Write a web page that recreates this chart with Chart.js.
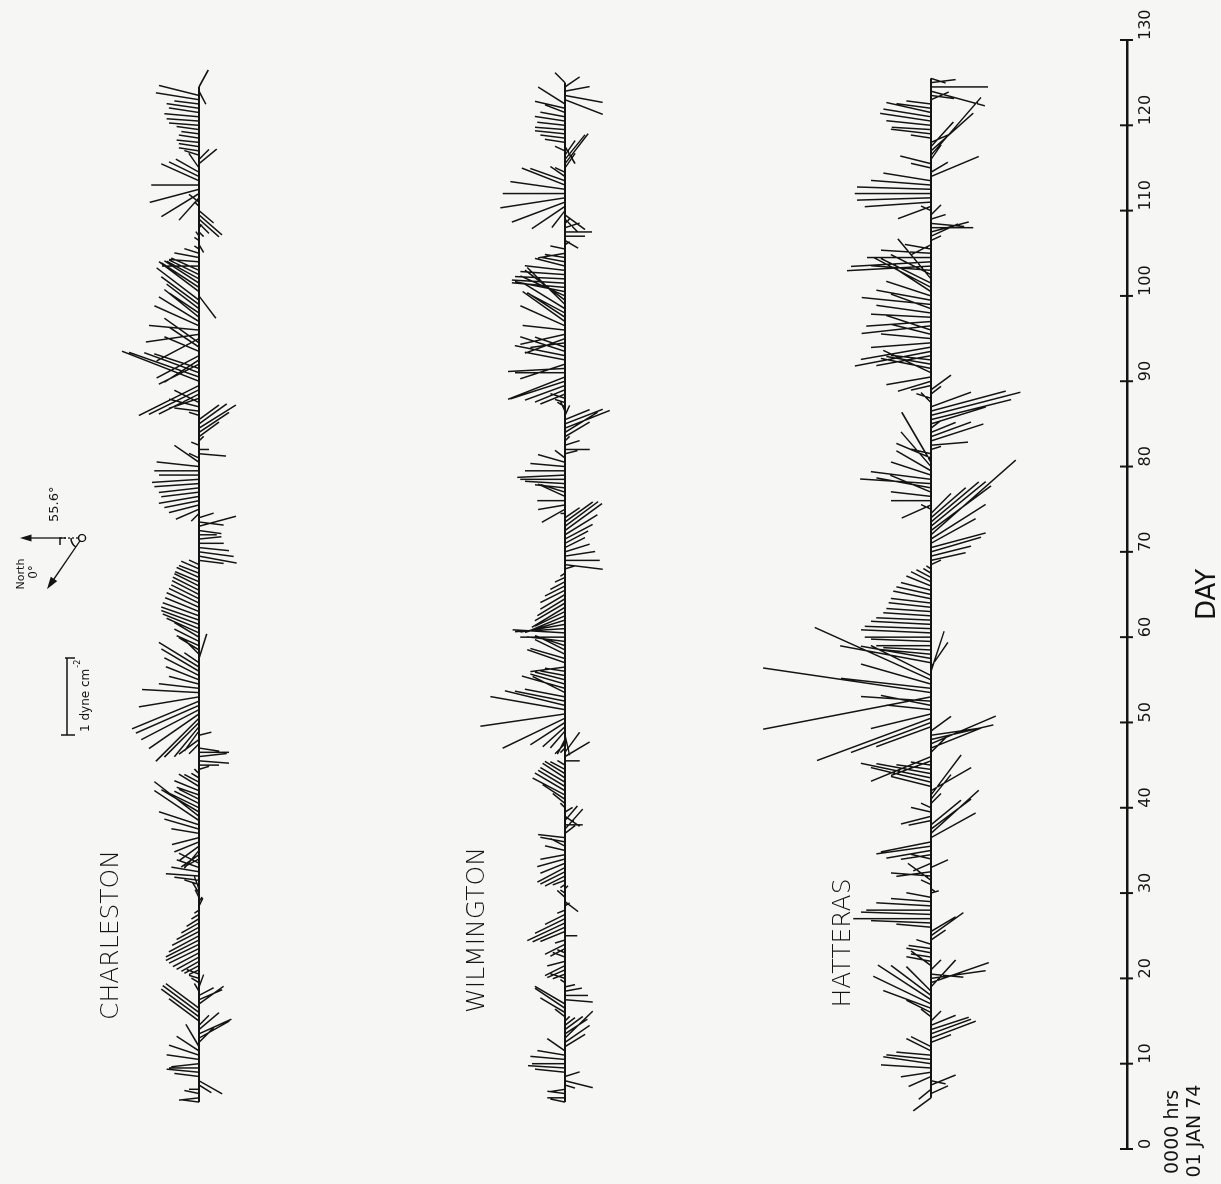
<!DOCTYPE html>
<html>
<head>
<meta charset="utf-8">
<script src="https://cdn.jsdelivr.net/npm/chart.js@4.4.1/dist/chart.umd.min.js"></script>
<style>
  html, body { margin: 0; padding: 0; background: #f6f6f4; overflow: hidden; }
  /* the figure is drawn landscape and turned a quarter turn, like the printed page */
  #wrap { position: absolute; left: 0; top: 0; width: 1184px; height: 1221px;
          transform-origin: 0 0; transform: rotate(-90deg) translateX(-100%); }
</style>
</head>
<body>
<div id="wrap"><canvas id="chart" width="1184" height="1221"></canvas></div>
<script>
// sample times (day from 0000 hrs 01 JAN 74), every 12 h
const sampleDays = [
  5.5,6,6.5,7,7.5,8,8.5,9,9.5,10,
  10.5,11,11.5,12,12.5,13,13.5,14,14.5,15,
  15.5,16,16.5,17,17.5,18,18.5,19,19.5,20,
  20.5,21,21.5,22,22.5,23,23.5,24,24.5,25,
  25.5,26,26.5,27,27.5,28,28.5,29,29.5,30,
  30.5,31,31.5,32,32.5,33,33.5,34,34.5,35,
  35.5,36,36.5,37,37.5,38,38.5,39,39.5,40,
  40.5,41,41.5,42,42.5,43,43.5,44,44.5,45,
  45.5,46,46.5,47,47.5,48,48.5,49,49.5,50,
  50.5,51,51.5,52,52.5,53,53.5,54,54.5,55,
  55.5,56,56.5,57,57.5,58,58.5,59,59.5,60,
  60.5,61,61.5,62,62.5,63,63.5,64,64.5,65,
  65.5,66,66.5,67,67.5,68,68.5,69,69.5,70,
  70.5,71,71.5,72,72.5,73,73.5,74,74.5,75,
  75.5,76,76.5,77,77.5,78,78.5,79,79.5,80,
  80.5,81,81.5,82,82.5,83,83.5,84,84.5,85,
  85.5,86,86.5,87,87.5,88,88.5,89,89.5,90,
  90.5,91,91.5,92,92.5,93,93.5,94,94.5,95,
  95.5,96,96.5,97,97.5,98,98.5,99,99.5,100,
  100.5,101,101.5,102,102.5,103,103.5,104,104.5,105,
  105.5,106,106.5,107,107.5,108,108.5,109,109.5,110,
  110.5,111,111.5,112,112.5,113,113.5,114,114.5,115,
  115.5,116,116.5,117,117.5,118,118.5,119,119.5,120,
  120.5,121,121.5,122,122.5,123,123.5,124,124.5,125,
  125.5
];

// wind stress, dyne cm^-2 : north and east components
const charlestonNorth = [
  .23,.26,.19,.13,-.16,-.30,.32,.42,.39,.36,
  .42,.39,.29,.17,-.19,-.39,-.42,-.26,-.13,.39,
  .49,.47,.43,-.32,-.30,-.19,.06,-.06,.10,.13,
  .16,.13,.19,.23,.29,.34,.39,.43,.43,.39,
  .35,.29,.23,.16,.10,.06,-.05,-.04,.05,.08,
  .06,.19,.32,.43,.36,.29,.26,.19,.23,.19,
  .26,.32,.35,.36,.45,.52,.58,.58,.49,.39,
  .32,.26,.29,.32,.26,.19,.10,.06,-.13,-.26,
  -.39,-.36,-.39,-.26,.13,.26,-.16,.19,.32,.45,
  .56,.65,.75,.82,.87,.78,.74,.52,.39,.43,
  .45,.49,.52,.19,-.10,.19,.26,.29,.32,.32,
  .42,.47,.49,.49,.47,.44,.42,.39,.36,.35,
  .34,.32,.31,.29,.26,.23,.13,-.32,-.49,-.45,
  -.39,-.32,-.29,-.23,-.29,-.48,-.32,-.19,.10,.30,
  .39,.45,.52,.49,.52,.58,.61,.52,.58,.55,
  .32,.13,-.35,-.13,.10,-.06,-.26,-.39,-.48,-.36,
  -.26,.13,.32,.39,.32,.39,.52,.65,.78,1.0,
  .91,.71,.58,.52,.45,.55,.45,.39,.45,.55,
  .69,.65,.58,.52,.45,.39,.42,.49,.55,-.22,
  .52,.49,.45,.42,.39,.36,.48,.39,.32,.19,
  .06,-.06,.06,.04,-.06,-.04,-.13,-.26,-.30,-.19,
  .06,.13,.26,.49,.64,.62,.49,.39,.30,.13,
  -.23,-.13,.19,.26,.26,.29,.26,.23,.29,.39,
  .42,.45,.39,.42,.32,.56,.52,-.09,-.12,null,
  null
];
const charlestonEast = [
  .03,-.03,.04,0,-.10,-.17,.04,.04,0,-.04,
  .06,.13,.19,.29,.19,.22,.19,.22,.13,.29,
  .36,.35,.32,.23,.13,.10,.10,.16,.06,.04,
  .06,-.06,-.10,-.13,-.16,-.18,-.19,-.21,-.22,-.21,
  -.18,-.16,-.13,-.10,-.06,-.04,.10,.06,.10,.13,
  .16,.06,.04,.03,.06,.10,.13,-.10,-.16,-.23,
  -.19,-.13,-.09,.06,.13,.17,.39,.45,.29,.19,
  .16,.13,.10,.13,.16,.10,.06,.06,.04,0,
  -.03,.04,0,-.04,-.13,-.19,.04,-.26,-.39,-.45,
  -.56,-.45,-.39,-.36,-.36,-.13,.04,.06,.10,.17,
  .23,.29,.32,.13,.32,.19,.16,.13,.16,.19,
  .19,.19,.18,.17,.17,.18,.19,.19,.18,.18,
  .17,.16,.13,.13,.10,.10,.06,-.04,-.09,-.06,
  -.04,0,.03,0,-.04,.13,-.04,.06,-.10,-.13,
  -.10,-.09,-.09,-.06,-.06,-.04,-.04,0,0,.06,
  .22,.06,-.03,0,.04,.06,.19,.26,.30,.26,
  .19,.04,.04,.10,.16,-.13,-.26,-.32,-.39,.39,
  .32,.26,.19,-.26,-.29,-.29,.19,.26,.32,-.29,
  -.10,.06,.26,.32,.36,.26,.32,.36,.42,-.29,
  .39,.32,.29,.23,.19,.16,0,.03,.06,.06,
  .04,-.10,.04,.06,-.06,.04,-.13,-.23,-.26,-.16,
  .06,.10,-.29,-.30,-.17,0,.22,.19,.17,.19,
  .19,.13,.06,.04,.04,.03,.04,.03,.04,.03,
  .03,.04,.06,.06,.04,.09,.13,-.17,.22,null,
  null
];

const wilmingtonNorth = [
  .19,.23,.23,.19,-.13,-.36,-.19,.39,.48,.43,
  .45,.36,.23,-.26,-.32,-.36,-.29,-.23,-.13,-.06,
  .13,.32,.39,.39,-.36,-.30,-.22,-.13,.06,.19,
  .16,.23,.26,.23,.16,.10,.19,.26,.13,-.16,
  .32,.42,.49,.39,.26,.10,-.06,-.17,.10,.06,
  -.04,.06,.16,.26,.32,.36,.32,.36,.32,.26,
  .19,.32,.35,-.13,-.23,-.23,-.16,-.19,-.10,.06,
  .16,.29,.42,.39,.35,.32,.29,.26,.19,.10,
  -.19,-.32,-.19,.06,.13,.10,-.06,.19,.29,.45,
  .81,1.10,.97,.78,.65,.52,.42,.56,.45,.39,
  .32,.26,.45,.49,.45,.39,.32,.39,.49,.58,
  .68,.65,.58,.52,.45,.39,.43,.39,.36,.32,
  .32,.26,.19,.13,.06,-.13,-.49,-.45,-.39,-.32,
  -.26,-.30,-.36,-.42,-.48,-.43,-.36,-.19,.06,.30,
  .35,.36,.35,.32,.39,.52,.58,.62,.52,.45,
  .35,.13,-.16,-.32,-.19,-.06,-.32,-.42,-.58,-.49,
  -.32,-.06,.06,.10,.13,.19,.32,.39,.52,.71,
  .74,.65,.74,.58,.52,.65,.58,.39,.45,.52,
  .58,.55,.58,.55,.49,.49,.52,.49,.52,.58,
  .65,.69,.69,.65,.58,.52,.39,.32,.26,.35,
  .19,-.06,-.17,-.26,-.35,-.19,-.06,-.17,-.26,.17,
  .43,.69,.84,.81,.71,.56,.45,.19,.13,-.13,
  -.30,-.26,-.13,.13,-.13,.26,.32,.39,.39,.36,
  .39,.32,.26,.39,.35,-.49,-.49,-.32,-.19,.13,
  null
];
const wilmingtonEast = [
  .04,0,.03,-.03,-.04,-.09,.06,.04,.03,0,
  .04,.06,.16,.16,.22,.35,.19,.17,.10,.06,
  .10,.19,.26,.23,-.03,0,.04,.03,.04,.06,
  -.06,-.10,-.13,-.06,.06,.04,-.10,-.13,-.04,0,
  -.13,-.19,-.23,-.19,-.13,-.04,.04,-.13,.09,.04,
  .04,-.04,-.06,-.13,-.16,-.19,-.13,-.10,-.06,.06,
  .10,.06,.04,.10,.26,0,.19,-.13,.06,.06,
  .13,.19,.22,.23,.21,.19,.19,.16,.10,.06,
  0,.19,.26,-.06,-.13,-.19,-.26,-.22,-.26,-.29,
  -.39,-.16,.17,.19,.13,.10,.21,.16,.13,.10,
  .06,.04,-.06,.17,.13,.19,.16,.13,.06,0,
  .04,-.04,-.10,-.16,-.19,-.19,-.26,-.23,-.22,-.19,
  -.16,-.13,-.10,-.06,-.04,.04,-.06,0,.06,.10,
  .13,.16,.19,.26,.35,.32,.26,.13,0,-.17,
  -.06,0,.16,.10,.04,.03,0,-.03,0,.04,
  .10,.10,.04,0,.06,.06,.19,.26,.23,.19,
  .13,.13,.13,.06,.04,.06,-.13,-.16,-.19,-.23,
  -.29,0,-.04,-.19,.10,.13,.19,.13,-.06,-.19,
  -.13,.06,.26,.39,.32,.26,.32,.48,.39,.26,
  .13,.06,.04,.03,.04,.06,.10,.06,.04,-.06,
  .04,.04,-.10,0,0,.06,.06,-.17,-.19,-.22,
  -.29,-.26,-.13,0,.10,.22,.16,.13,.06,.19,
  .39,.32,.19,.06,-.22,.04,.04,.04,.03,.04,
  .06,.06,.10,.09,.22,-.19,-.09,.06,.13,.13,
  null
];

const hatterasNorth = [
  null,.23,-.22,.16,-.32,-.19,.29,.39,.65,.62,
  .58,.45,.32,.26,-.26,-.58,-.52,-.49,-.32,-.13,
  .13,.32,.62,.75,.69,.52,.32,-.32,-.75,-.71,
  -.42,-.13,.26,.32,.26,.32,.29,.19,-.19,-.42,
  -.32,.45,.78,1.01,.91,.84,.71,.52,.32,-.10,
  -.06,.13,.30,.52,.45,-.22,.23,.26,.39,.58,
  .71,.65,-.58,-.62,-.52,-.39,.29,.39,.26,.13,
  -.13,-.26,-.39,-.52,.52,.78,.91,.71,.45,.26,
  .52,.78,-.19,-.65,-.84,-.81,-.62,-.26,.71,1.04,
  1.48,.78,.58,.65,.91,2.18,2.18,1.17,.91,1.51,
  .78,-.17,-.22,1.18,.91,.65,.62,.71,.78,.86,
  .91,.86,.78,.71,.62,.58,.55,.52,.49,.45,
  .39,.32,.26,.19,.10,.06,-.13,-.45,-.52,-.65,
  -.71,-.58,-.71,-1.10,-.78,-.71,-.62,-.45,-.26,.13,
  .38,.52,.52,.53,.71,.92,.78,.52,.45,.39,
  .38,.45,.26,-.13,-.48,-.68,-.52,-.32,-.13,-.71,
  -1.04,-1.16,-.97,-.52,.13,.19,-.13,-.26,.26,.43,
  .58,.62,.65,.58,.52,.71,.99,.91,.78,.65,
  .52,.58,.90,.84,.78,.71,.52,.90,.71,.58,
  .49,.75,.65,.43,.52,.78,1.09,1.04,.83,.65,
  .34,.26,-.13,-.35,-.49,-.55,-.43,-.19,-.13,.13,
  .43,.86,.96,.99,.96,.78,.62,-.62,-.22,.26,
  .40,-.13,-.65,-.55,-.29,-.23,.26,.52,.51,.58,
  .66,.62,.58,.45,.32,-.23,-.30,-.70,-.74,-.32,
  -.19
];
const hatterasEast = [
  null,-.17,.10,-.13,.13,-.04,-.13,-.06,.04,.09,
  .06,.04,.16,.13,.10,.22,.19,.16,.13,.13,
  .10,.16,.23,.36,.45,.39,.32,.35,.26,.10,
  -.04,.13,.19,.06,.04,.06,.04,.06,.13,.30,
  .19,.04,.03,0,.03,0,.04,.04,.06,.03,
  -.04,.06,.22,.04,-.06,.10,-.10,.06,-.06,-.10,
  -.10,-.13,.32,.56,.39,.32,-.06,-.10,.06,.06,
  .13,.32,.52,.30,.13,.19,.19,.13,.06,.04,
  -.19,-.32,.19,.26,.36,.19,.09,.19,-.26,-.39,
  -.55,-.19,.06,.13,.06,-.42,.32,.13,.26,.68,
  .39,.52,.32,.22,.16,.06,.03,0,.03,0,
  .04,.03,.04,.03,.04,.04,.06,.06,.10,.10,
  .10,.13,.13,.10,.06,.04,.06,.10,.13,.19,
  .19,.32,.45,.97,.58,.58,.52,.39,.26,.06,
  -.17,0,.06,.22,.13,.06,.10,.17,.26,.45,
  .65,.19,.06,.04,.04,.22,.19,.13,.10,.22,
  .26,.30,.26,.19,.13,.06,.10,.19,-.06,-.13,
  -.10,.29,.13,.10,.06,-.13,-.19,-.16,-.06,.06,
  .13,.19,-.10,-.06,.04,.10,.19,.09,.13,.19,
  .32,.39,.32,.52,.26,.06,-.06,-.06,0,.04,
  .06,-.13,.06,.16,.13,0,-.04,.06,.13,.06,
  -.16,-.06,-.03,0,.03,.06,.10,.26,.13,.06,
  .10,.19,.75,.49,.32,.10,.04,.06,.03,.06,
  .10,.10,.13,.06,.04,.10,-.04,-.19,0,.04,
  -.06
];

const stationNames = ['CHARLESTON', 'WILMINGTON', 'HATTERAS'];
const dayTicks = [0, 10, 20, 30, 40, 50, 60, 70, 80, 90, 100, 110, 120, 130];

// layout (pixels of the unrotated figure)
const INK = '#141414';
const PAD_LEFT = 35, PAD_RIGHT = 40, AXIS_BOX = 94;
const PX_PER_DYNE = 77;                       // length of the 1 dyne cm^-2 bar
const PLOT_H = 1221 - AXIS_BOX;
const Y_MAX = PLOT_H / PX_PER_DYNE;
const PX_PER_DAY = (1184 - PAD_LEFT - PAD_RIGHT) / 130;
const DAYS_PER_DYNE = PX_PER_DYNE / PX_PER_DAY;   // keeps the sticks isotropic
const baseLevel = [(PLOT_H - 199) / PX_PER_DYNE, (PLOT_H - 565) / PX_PER_DYNE, (PLOT_H - 931) / PX_PER_DYNE];
const labelPos = [[249, 118], [254, 484], [241, 850]];

function sticks(north, east, base) {
  const pts = [];
  sampleDays.forEach((d, i) => {
    if (north[i] == null || east[i] == null) return;
    pts.push({x: d, y: base});
    pts.push({x: d + east[i] * DAYS_PER_DYNE, y: base + north[i]});
    pts.push({x: d, y: null});
  });
  return pts;
}
function baseline(north, base) {
  const idx = sampleDays.map((d, i) => i).filter(i => north[i] != null);
  return [{x: sampleDays[idx[0]], y: base}, {x: sampleDays[idx[idx.length - 1]], y: base}];
}

const series = [
  [charlestonNorth, charlestonEast],
  [wilmingtonNorth, wilmingtonEast],
  [hatterasNorth, hatterasEast]
];

const datasets = [];
series.forEach(([n, e], k) => {
  datasets.push({
    label: stationNames[k],
    data: sticks(n, e, baseLevel[k]),
    borderColor: INK, borderWidth: 1.5, pointRadius: 0, spanGaps: false, tension: 0
  });
  datasets.push({
    label: stationNames[k] + ' axis',
    data: baseline(n, baseLevel[k]),
    borderColor: INK, borderWidth: 2.2, pointRadius: 0
  });
});

function arrowHead(ctx, x0, y0, x1, y1, size) {
  const a = Math.atan2(y1 - y0, x1 - x0);
  ctx.beginPath();
  ctx.moveTo(x1, y1);
  ctx.lineTo(x1 - size * Math.cos(a - 0.3), y1 - size * Math.sin(a - 0.3));
  ctx.lineTo(x1 - size * Math.cos(a + 0.3), y1 - size * Math.sin(a + 0.3));
  ctx.closePath();
  ctx.fill();
}

const extras = {
  id: 'extras',
  afterDraw(chart) {
    const {ctx, chartArea} = chart;
    const x = chart.scales.x;
    const axisY = chartArea.bottom;
    ctx.save();
    ctx.strokeStyle = INK;
    ctx.fillStyle = INK;

    // tick marks crossing the day axis
    ctx.lineWidth = 2;
    dayTicks.forEach(v => {
      const px = x.getPixelForValue(v);
      ctx.beginPath(); ctx.moveTo(px, axisY - 7); ctx.lineTo(px, axisY + 6); ctx.stroke();
    });

    // start time
    ctx.font = "19px 'DejaVu Sans'";
    ctx.textAlign = 'center';
    ctx.textBaseline = 'alphabetic';
    ctx.fillText('0000 hrs', x.getPixelForValue(2), 1178);
    ctx.fillText('01 JAN 74', x.getPixelForValue(2.1), 1200);

    // station names
    ctx.font = "300 25px 'DejaVu Sans'";
    stationNames.forEach((s, k) => ctx.fillText(s, labelPos[k][0], labelPos[k][1]));

    // scale bar: 1 dyne cm^-2
    const bx0 = 449, bx1 = bx0 + PX_PER_DYNE, by = 67;
    ctx.lineWidth = 1.5;
    ctx.beginPath();
    ctx.moveTo(bx0, by); ctx.lineTo(bx1, by);
    ctx.moveTo(bx0, by - 6); ctx.lineTo(bx0, by + 8);
    ctx.moveTo(bx1, by - 2); ctx.lineTo(bx1, by + 8);
    ctx.stroke();
    ctx.textAlign = 'left';
    ctx.font = "12px 'DejaVu Sans'";
    ctx.fillText('1 dyne cm', bx0 + 3, 89);
    const w = ctx.measureText('1 dyne cm').width;
    ctx.font = "8px 'DejaVu Sans'";
    ctx.fillText('-2', bx0 + 4 + w, 80);

    // north / coordinate rotation sketch
    const cx = 646, cy = 82;
    ctx.lineWidth = 1.3;
    ctx.beginPath(); ctx.arc(cx, cy, 3.5, 0, Math.PI * 2); ctx.stroke();
    ctx.setLineDash([2, 2]);
    ctx.beginPath(); ctx.moveTo(cx, cy - 4); ctx.lineTo(cx, 62); ctx.stroke();
    ctx.setLineDash([]);
    ctx.beginPath(); ctx.moveTo(cx, 62); ctx.lineTo(cx, 26); ctx.stroke();
    arrowHead(ctx, cx, 62, cx, 20, 12);
    ctx.beginPath(); ctx.moveTo(cx - 7, 60); ctx.lineTo(cx, 60); ctx.lineTo(cx, 66); ctx.stroke();
    const ang = 55.6 * Math.PI / 180, len = 62;
    const tx = cx - len * Math.sin(ang), ty = cy - len * Math.cos(ang);
    ctx.beginPath(); ctx.moveTo(cx - 3 * Math.sin(ang), cy - 3 * Math.cos(ang)); ctx.lineTo(tx + 6 * Math.sin(ang), ty + 6 * Math.cos(ang)); ctx.stroke();
    arrowHead(ctx, cx, cy, tx, ty, 13);
    ctx.beginPath(); ctx.arc(cx, cy, 11, -Math.PI / 2 - ang, -Math.PI / 2); ctx.stroke();
    ctx.font = "13px 'DejaVu Sans'";
    ctx.fillText('55.6°', 662, 58);
    ctx.textAlign = 'center';
    ctx.font = "11px 'DejaVu Sans'";
    ctx.fillText('North', 610, 24);
    ctx.font = "12px 'DejaVu Sans'";
    ctx.fillText('0°', 612, 37);
    ctx.restore();
  }
};

Chart.defaults.font.family = "'DejaVu Sans', sans-serif";
Chart.defaults.color = INK;

new Chart(document.getElementById('chart').getContext('2d'), {
  type: 'line',
  data: {datasets: datasets},
  options: {
    responsive: false,
    animation: false,
    devicePixelRatio: 1,
    layout: {padding: {left: PAD_LEFT, right: PAD_RIGHT, top: 0, bottom: 0}},
    plugins: {legend: {display: false}, tooltip: {enabled: false}},
    scales: {
      x: {
        type: 'linear', position: 'bottom', min: 0, max: 130,
        afterBuildTicks: s => { s.ticks = dayTicks.map(v => ({value: v})); },
        afterFit: s => { s.height = AXIS_BOX; },
        grid: {display: false, drawTicks: false},
        border: {display: true, color: INK, width: 2.5},
        ticks: {align: 'start', padding: 9, maxRotation: 0, autoSkip: false, color: INK,
                font: {size: 16}},
        title: {display: true, text: 'DAY', color: INK, padding: 0,
                font: {size: 26, lineHeight: 1}}
      },
      y: {type: 'linear', min: 0, max: Y_MAX, display: false}
    }
  },
  plugins: [extras]
});
</script>
</body>
</html>
